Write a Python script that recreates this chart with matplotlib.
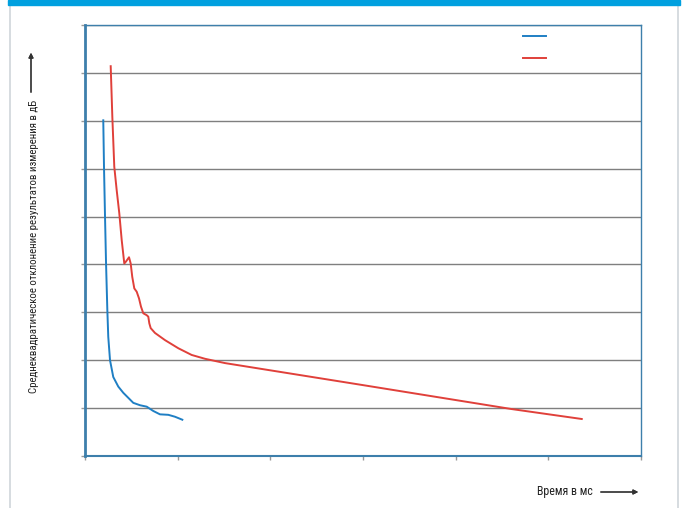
import numpy as np
import matplotlib.pyplot as plt
from matplotlib.lines import Line2D
from matplotlib.patches import Rectangle

# Data (x: time, y: RMS deviation)
blue_x = [0.197, 0.205, 0.216, 0.227, 0.241, 0.251, 0.270, 0.305, 0.359, 0.413,
          0.521, 0.594, 0.666, 0.737, 0.809, 0.899, 0.971, 1.060]
blue_y = [7.03, 6.04, 5.00, 4.03, 3.05, 2.49, 2.00, 1.65, 1.45, 1.32,
          1.11, 1.06, 1.03, 0.94, 0.87, 0.86, 0.82, 0.75]

red_x = [0.277, 0.295, 0.316, 0.342, 0.370, 0.396, 0.424, 0.442, 0.475, 0.493,
         0.510, 0.532, 0.558, 0.583, 0.604, 0.629, 0.666, 0.683, 0.694, 0.709,
         0.755, 0.863, 1.007, 1.151, 1.295, 1.511, 3.000, 4.605, 5.371]
red_y = [8.16, 7.08, 6.04, 5.55, 5.07, 4.51, 4.02, 4.06, 4.15, 4.02,
         3.74, 3.50, 3.43, 3.29, 3.12, 2.98, 2.94, 2.91, 2.77, 2.67,
         2.57, 2.42, 2.25, 2.11, 2.03, 1.94, 1.48, 0.98, 0.77]

x_ticks = [0, 1, 2, 3, 4, 5, 6]
y_ticks = [0, 1, 2, 3, 4, 5, 6, 7, 8, 9]

ylabel = "Среднеквадратическое отклонение результатов измерения в дБ"
xlabel = "Время в мс"

plt.rcParams['font.family'] = ['Roboto Condensed', 'DejaVu Sans Condensed',
                               'Liberation Sans Narrow', 'DejaVu Sans']
plt.rcParams['font.stretch'] = 'condensed'

fig = plt.figure(figsize=(6.83, 5.08), dpi=100)
ax = fig.add_axes([85/683, 52/508, 556/683, 431/508])

spine_col = '#3d7fab'
grid_col = '#7f7f7f'

ax.plot(blue_x, blue_y, color='#1f7fc4', lw=1.4, solid_capstyle='butt')
ax.plot(red_x, red_y, color='#e0403a', lw=1.4, solid_capstyle='butt')

ax.set_xlim(0, 6)
ax.set_ylim(0, 9)
ax.set_xticks(x_ticks)
ax.set_yticks(y_ticks)
ax.set_xticklabels([])
ax.set_yticklabels([])
ax.tick_params(length=3, width=1, color='#999999', direction='out')
ax.yaxis.grid(True, color=grid_col, lw=1)
ax.set_axisbelow(True)

for side in ['top', 'right']:
    ax.spines[side].set_color(spine_col)
    ax.spines[side].set_linewidth(1)
ax.spines['left'].set_color(spine_col)
ax.spines['left'].set_linewidth(2.0)
ax.spines['bottom'].set_color(spine_col)
ax.spines['bottom'].set_linewidth(1.5)

# legend without text
handles = [Line2D([], [], color='#1f7fc4', lw=1.4),
           Line2D([], [], color='#e0403a', lw=1.4)]
ax.legend(handles, ['', ''], loc='upper right', bbox_to_anchor=(0.871, 1.018),
          frameon=False, handlelength=1.65, labelspacing=0.55, fontsize=10)

# axis labels with arrows
fig.text(34/683, 1 - 246/508, ylabel, rotation=90, ha='center', va='center',
         fontsize=7.8, color='#222222')
fig.add_artist(plt.annotate('', xy=(31/683, 1 - 50/508), xytext=(31/683, 1 - 95/508),
                            xycoords='figure fraction', textcoords='figure fraction',
                            arrowprops=dict(arrowstyle='-|>', color='#333333', lw=0.9,
                                            mutation_scale=7)))
fig.text(593/683, 1 - 492/508, xlabel, ha='right', va='center',
         fontsize=8.6, color='#222222')
fig.add_artist(plt.annotate('', xy=(641/683, 1 - 492/508), xytext=(598/683, 1 - 492/508),
                            xycoords='figure fraction', textcoords='figure fraction',
                            arrowprops=dict(arrowstyle='-|>', color='#333333', lw=0.9,
                                            mutation_scale=7)))

# page frame: blue band on top, light grey side rules
fig.patches.append(Rectangle((8/683, 1 - 5/508), 672/683, 5/508, transform=fig.transFigure,
                             color='#00a0df', zorder=5))
fig.add_artist(Line2D([10/683, 10/683], [0, 1 - 5/508], transform=fig.transFigure,
                      color='#d0d6da', lw=1.2))
fig.add_artist(Line2D([678/683, 678/683], [0, 1 - 5/508], transform=fig.transFigure,
                      color='#d0d6da', lw=1.2))

fig.savefig('out.png', dpi=100)
